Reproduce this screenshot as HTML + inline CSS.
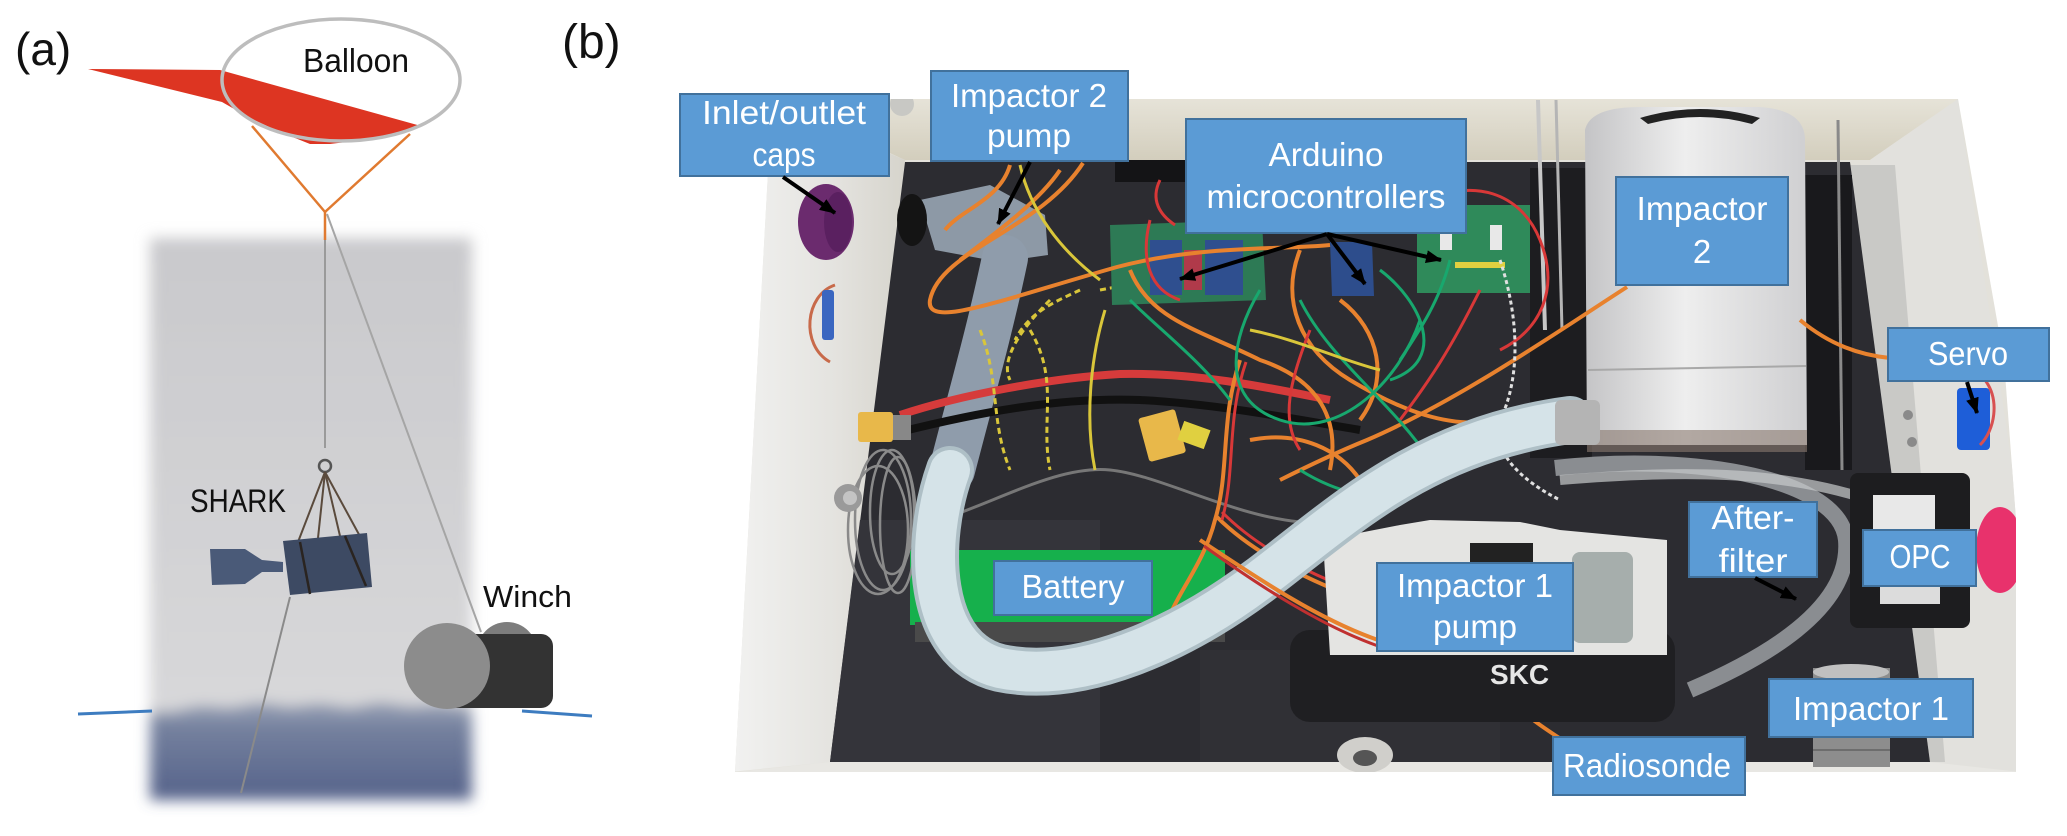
<!DOCTYPE html>
<html><head><meta charset="utf-8">
<style>
html,body{margin:0;padding:0;background:#fff;}
svg{display:block;}
text{font-family:"Liberation Sans",Arial,sans-serif;}
</style></head><body>
<svg width="2067" height="836" viewBox="0 0 2067 836" xmlns="http://www.w3.org/2000/svg">
<defs>
  <filter id="feather" x="-10%" y="-10%" width="120%" height="120%"><feGaussianBlur stdDeviation="7"/></filter>
  <linearGradient id="sky" x1="0" y1="0" x2="0" y2="1">
    <stop offset="0" stop-color="#c9c9cc"/><stop offset="1" stop-color="#d8d8da"/>
  </linearGradient>
  <linearGradient id="sea" x1="0" y1="0" x2="0" y2="1">
    <stop offset="0" stop-color="#7b87a2"/><stop offset="1" stop-color="#55628a"/>
  </linearGradient>
  <linearGradient id="cyl" x1="0" y1="0" x2="1" y2="0">
    <stop offset="0" stop-color="#c4c4c6"/><stop offset="0.45" stop-color="#eeeeee"/><stop offset="1" stop-color="#cfcfd1"/>
  </linearGradient>
  <linearGradient id="lwall" x1="0" y1="0" x2="1" y2="0">
    <stop offset="0" stop-color="#f2f2f1"/><stop offset="0.6" stop-color="#e4e3df"/><stop offset="1" stop-color="#d6d4cc"/>
  </linearGradient>
  <linearGradient id="twall" x1="0" y1="0" x2="0" y2="1">
    <stop offset="0" stop-color="#e6e3d8"/><stop offset="1" stop-color="#d3cebd"/>
  </linearGradient>
  <clipPath id="photo">
    <path d="M792,99 L1958,99 L2004,360 L2016,520 L2016,772 L735,772 L771,118 Q772,100 792,99 Z"/>
  </clipPath>
  <marker id="ah" markerWidth="16" markerHeight="13" refX="15" refY="6.5" orient="auto" markerUnits="userSpaceOnUse">
    <path d="M0,0 L16,6.5 L0,13 z" fill="#000"/>
  </marker>
</defs>

<!-- ================= PANEL (a) ================= -->
<text x="15" y="65" font-size="46" fill="#111">(a)</text>

<g filter="url(#feather)">
  <rect x="150" y="238" width="322" height="480" fill="url(#sky)"/>
  <rect x="150" y="712" width="322" height="88" fill="url(#sea)"/>
  <path d="M150,716 L180,710 L200,706 L230,708 L260,703 L290,707 L320,704 L350,708 L380,703 L410,707 L440,705 L472,709 L472,722 L150,722 Z" fill="#8893ab"/>
</g>

<line x1="78" y1="714" x2="152" y2="711" stroke="#3d7cc0" stroke-width="3"/>
<line x1="522" y1="711" x2="592" y2="716" stroke="#3d7cc0" stroke-width="3"/>

<polygon points="88,69 220,70 421,126 395,133 363,140 330,144 310,144 280,132 250,118 222,102" fill="#dd3522"/>
<ellipse cx="341" cy="80" rx="119" ry="61" fill="none" stroke="#bdbdbd" stroke-width="3.5"/>
<text x="303" y="72" font-size="33" fill="#111" textLength="106" lengthAdjust="spacingAndGlyphs">Balloon</text>

<line x1="252" y1="126" x2="325" y2="212" stroke="#e07a30" stroke-width="2.5"/>
<line x1="410" y1="134" x2="325" y2="212" stroke="#e07a30" stroke-width="2.5"/>
<line x1="325" y1="212" x2="325" y2="240" stroke="#e07a30" stroke-width="2.5"/>
<line x1="325" y1="240" x2="325" y2="448" stroke="#9a9a9a" stroke-width="2"/>
<line x1="327" y1="214" x2="481" y2="632" stroke="#a5a5a5" stroke-width="2"/>

<circle cx="325" cy="466" r="6" fill="none" stroke="#555" stroke-width="2.5"/>
<g stroke="#5a4a3c" stroke-width="2">
  <line x1="325" y1="472" x2="298" y2="542"/>
  <line x1="325" y1="472" x2="318" y2="538"/>
  <line x1="325" y1="472" x2="340" y2="536"/>
  <line x1="325" y1="472" x2="362" y2="540"/>
</g>
<polygon points="210,549 245,549 262,560 283,562 283,572 262,572 245,584 212,585" fill="#4a5a78"/>
<polygon points="283,541 367,533 372,587 290,595" fill="#3d4a63"/>
<g stroke="#2a2420" stroke-width="2.5">
  <line x1="300" y1="542" x2="310" y2="594"/>
  <line x1="345" y1="536" x2="366" y2="586"/>
</g>
<line x1="290" y1="597" x2="241" y2="793" stroke="#8a8a8a" stroke-width="2"/>
<text x="190" y="512" font-size="32" fill="#111" textLength="96" lengthAdjust="spacingAndGlyphs">SHARK</text>

<circle cx="507" cy="652" r="30" fill="#7d7d7d"/>
<rect x="443" y="634" width="110" height="74" rx="12" fill="#333333"/>
<circle cx="447" cy="666" r="43" fill="#8c8c8c"/>
<text x="483" y="607" font-size="31" fill="#111" textLength="89" lengthAdjust="spacingAndGlyphs">Winch</text>

<!-- ================= PANEL (b) ================= -->
<text x="562" y="58" font-size="48" fill="#111">(b)</text>

<g clip-path="url(#photo)">
  <rect x="700" y="90" width="1340" height="700" fill="#e3e1da"/>
  <polygon points="760,99 905,160 830,762 730,772" fill="url(#lwall)"/>
  <polygon points="772,99 1958,99 1870,160 905,160" fill="url(#twall)"/>
  <polygon points="1958,99 2020,520 2020,772 1930,762 1870,160" fill="#e2e1dd"/>
  <polygon points="1850,165 1895,165 1945,762 1930,762" fill="#c9c9c6"/>
  <polygon points="735,772 2020,772 1930,762 830,762" fill="#e8e7e3"/>
  <!-- interior foam -->
  <polygon points="905,162 1850,162 1930,762 830,762" fill="#2c2c31"/>
  <polygon points="860,520 1100,520 1100,762 830,762" fill="#34343a"/>
  <polygon points="1200,650 1500,650 1500,762 1200,762" fill="#303035"/>
  <!-- top-right structures -->
  <rect x="1530" y="168" width="62" height="290" fill="#1d1d20"/>
  <rect x="1805" y="175" width="47" height="295" fill="#19191c"/>
  <line x1="1538" y1="100" x2="1545" y2="330" stroke="#c7c7c7" stroke-width="4"/>
  <line x1="1556" y1="100" x2="1562" y2="330" stroke="#b5b5b5" stroke-width="3"/>
  <line x1="1838" y1="120" x2="1842" y2="470" stroke="#8a8a8a" stroke-width="3"/>
  <!-- Impactor 2 cylinder -->
  <path d="M1585,130 Q1590,107 1640,107 L1760,107 Q1805,110 1805,140 L1807,445 L1587,445 Z" fill="url(#cyl)"/>
  <path d="M1640,118 Q1700,100 1760,118 L1752,124 Q1700,110 1648,124 Z" fill="#222"/>
  <line x1="1588" y1="370" x2="1806" y2="366" stroke="#a8a8a8" stroke-width="2"/>
  <rect x="1587" y="430" width="220" height="22" fill="#8a7a70" opacity="0.6"/>
  <!-- clear tube loop -->
  <path d="M1555,468 C1700,452 1840,480 1846,540 C1852,610 1760,660 1690,690" fill="none" stroke="#a9adb2" stroke-width="16" opacity="0.75"/>
  <path d="M1560,480 C1680,470 1780,470 1870,500" fill="none" stroke="#c8cacc" stroke-width="10" opacity="0.7"/>
  <!-- OPC -->
  <rect x="1850" y="473" width="120" height="155" rx="8" fill="#1d1d1f"/>
  <rect x="1873" y="495" width="62" height="36" fill="#e8e8e8"/>
  <rect x="1880" y="578" width="60" height="26" fill="#dcdcdc"/>
  <!-- Impactor 1 -->
  <rect x="1813" y="668" width="77" height="99" fill="#8d8d8d"/>
  <ellipse cx="1851" cy="672" rx="38" ry="8" fill="#c0c0c0"/>
  <g stroke="#6d6d6d" stroke-width="2"><line x1="1813" y1="720" x2="1890" y2="720"/><line x1="1813" y1="735" x2="1890" y2="735"/><line x1="1813" y1="750" x2="1890" y2="750"/></g>
  <!-- right wall items -->
  <ellipse cx="2000" cy="550" rx="24" ry="43" fill="#e8326c"/>
  <rect x="1957" y="388" width="33" height="62" rx="4" fill="#1e5ed8"/>
  <path d="M1985,380 C2000,400 1995,430 1980,445" fill="none" stroke="#d85050" stroke-width="3"/>
  <circle cx="1908" cy="415" r="5" fill="#8a8a8a"/>
  <circle cx="1912" cy="442" r="5" fill="#8a8a8a"/>
  <!-- left wall items -->
  <ellipse cx="826" cy="222" rx="28" ry="38" fill="#6b2b6e"/>
  <ellipse cx="838" cy="222" rx="14" ry="30" fill="#5a2060"/>
  <path d="M835,285 C805,295 800,345 830,362" fill="none" stroke="#c86a4a" stroke-width="3"/>
  <rect x="822" y="290" width="12" height="50" rx="3" fill="#3a66c0"/>
  <!-- top area -->
  <rect x="1115" y="160" width="75" height="22" fill="#141416"/>
  <polygon points="920,200 990,185 1045,215 1048,255 1000,262 935,250" fill="#8d99a6"/>
  <ellipse cx="912" cy="220" rx="15" ry="26" fill="#141414"/>
  <path d="M1005,258 C990,330 970,400 952,470" fill="none" stroke="#8f9cab" stroke-width="46" stroke-linecap="round"/>
  <!-- battery -->
  <rect x="910" y="550" width="315" height="75" fill="#16b04c"/>
  <rect x="915" y="622" width="310" height="20" fill="#4a4a4a"/>
  <!-- coiled cable -->
  <g fill="none" stroke="#8a8a8a" stroke-width="2.5">
    <ellipse cx="883" cy="520" rx="28" ry="70"/>
    <ellipse cx="892" cy="512" rx="22" ry="62"/>
    <ellipse cx="878" cy="530" rx="30" ry="64"/>
    <ellipse cx="898" cy="525" rx="18" ry="68"/>
  </g>
  <circle cx="848" cy="498" r="14" fill="#9a9a9a"/>
  <circle cx="850" cy="498" r="7" fill="#c4c4c4"/>
  <!-- cables -->
  <path d="M900,415 C960,395 1050,378 1120,374 C1200,372 1280,390 1330,400" fill="none" stroke="#d63b3b" stroke-width="8"/>
  <path d="M900,432 C980,412 1060,397 1140,400 C1220,404 1300,420 1360,430" fill="none" stroke="#111" stroke-width="8"/>
  <path d="M940,520 C1000,500 1060,465 1110,470 C1160,475 1230,515 1300,522" fill="none" stroke="#777" stroke-width="3"/>
  <rect x="858" y="412" width="35" height="30" rx="3" fill="#e8b84a"/>
  <rect x="893" y="415" width="18" height="25" fill="#888"/>
  <rect x="1143" y="413" width="38" height="45" rx="3" fill="#e8b84a" transform="rotate(-15 1162 435)"/>
  <rect x="1180" y="425" width="28" height="20" fill="#e0d040" transform="rotate(20 1194 435)"/>
  <!-- yellow twisted wires -->
  <g fill="none" stroke="#d9c63a" stroke-width="3" stroke-dasharray="6 4">
    <path d="M980,330 C1000,380 990,420 1010,470"/>
    <path d="M1050,300 C1020,330 1000,360 1010,380"/>
    <path d="M1030,330 C1060,380 1040,420 1050,470"/>
    <path d="M1080,290 C1060,300 1030,310 1015,340"/>
    <path d="M1100,290 C1150,280 1180,280 1210,285"/>
  </g>
  <!-- arduino boards -->
  <polygon points="1110,225 1262,220 1266,300 1112,305" fill="#2d7a55"/>
  <rect x="1150" y="240" width="32" height="55" fill="#2f4f8f"/>
  <rect x="1184" y="250" width="18" height="40" fill="#b03a4a"/>
  <rect x="1205" y="240" width="38" height="55" fill="#2f4f8f"/>
  <polygon points="1330,242 1372,242 1374,296 1332,296" fill="#2d4d8c"/>
  <rect x="1417" y="205" width="113" height="88" fill="#2f8a5a"/>
  <rect x="1440" y="225" width="12" height="25" fill="#e8e8e8"/>
  <rect x="1490" y="225" width="12" height="25" fill="#e8e8e8"/>
  <rect x="1455" y="262" width="50" height="6" fill="#e0d040"/>
  <!-- orange wires -->
  <g fill="none" stroke="#e8822e" stroke-width="4">
    <path d="M1083,163 C1040,230 940,250 930,300 C925,330 1000,300 1117,267 C1200,245 1280,250 1330,245"/>
    <path d="M1010,165 C1000,200 960,210 945,230"/>
    <path d="M1627,287 C1560,330 1460,400 1367,440 C1330,455 1300,470 1280,480"/>
    <path d="M1217,517 C1260,560 1330,590 1373,603"/>
    <path d="M1240,360 C1220,420 1230,470 1215,520 C1205,560 1180,590 1170,615"/>
    <path d="M1800,320 C1830,345 1860,355 1890,358"/>
    <path d="M1130,270 C1150,320 1200,330 1260,360 C1320,380 1340,420 1330,470"/>
    <path d="M1510,700 C1530,720 1555,735 1570,745"/>
    <path d="M1300,250 C1280,300 1300,350 1350,380 C1400,410 1450,430 1500,420"/>
    <path d="M1060,170 C1040,200 1000,230 960,260"/>
    <path d="M1340,300 C1380,330 1390,380 1360,420"/>
    <path d="M1250,440 C1300,430 1340,450 1360,480"/>
  </g>
  <g fill="none" stroke="#d83838" stroke-width="3">
    <path d="M1222,512 C1265,556 1333,584 1376,598"/>
    <path d="M1430,200 C1470,180 1520,190 1540,240 C1560,290 1540,330 1500,350"/>
    <path d="M1150,220 C1140,260 1150,290 1180,300"/>
    <path d="M1480,290 C1450,350 1430,380 1400,420"/>
    <path d="M1246,362 C1226,420 1236,470 1222,520"/>
    <path d="M1160,180 C1150,200 1160,215 1175,225"/>
    <path d="M1310,330 C1290,380 1280,420 1300,450"/>
  </g>
  <g fill="none" stroke="#18a86e" stroke-width="3">
    <path d="M1260,290 C1230,340 1220,400 1280,420 C1340,440 1400,380 1420,320"/>
    <path d="M1300,300 C1330,360 1390,400 1430,460 C1450,490 1380,520 1300,470"/>
    <path d="M1380,270 C1420,300 1450,360 1390,380"/>
    <path d="M1450,260 C1440,300 1420,330 1400,360"/>
    <path d="M1130,300 C1160,330 1200,360 1230,400"/>
  </g>
  <g fill="none" stroke="#d9c63a" stroke-width="3">
    <path d="M1020,165 C1030,210 1060,250 1100,280"/>
    <path d="M1250,330 C1300,340 1340,360 1380,370"/>
    <path d="M1400,160 C1420,180 1430,200 1420,220"/>
    <path d="M1105,310 C1090,360 1085,420 1095,470"/>
  </g>
  <path d="M1500,260 C1520,320 1520,380 1500,420 C1490,450 1520,480 1560,500" fill="none" stroke="#e0e0e0" stroke-width="3" stroke-dasharray="4 3"/>
  <!-- SKC pump -->
  <rect x="1290" y="630" width="385" height="92" rx="20" fill="#1f1f22"/>
  <polygon points="1323,540 1400,525 1430,520 1520,522 1560,530 1667,540 1667,655 1330,655" fill="#e4e4e2"/>
  <rect x="1470" y="543" width="63" height="20" fill="#222"/>
  <rect x="1572" y="552" width="61" height="91" rx="8" fill="#a6aeac"/>
  <text x="1490" y="684" font-size="28" font-weight="bold" fill="#e6e6e6" font-family="Liberation Serif, serif">SKC</text>
  <!-- white tube -->
  <path d="M950,470 C925,540 925,650 1000,668 C1080,685 1180,640 1260,580 C1340,520 1420,440 1570,420" fill="none" stroke="#aebfc6" stroke-width="48" stroke-linecap="round"/>
  <path d="M950,470 C925,540 925,650 1000,668 C1080,685 1180,640 1260,580 C1340,520 1420,440 1570,420" fill="none" stroke="#d5e3e8" stroke-width="40" stroke-linecap="round"/>
  <rect x="1555" y="400" width="45" height="45" rx="6" fill="#b4b4b4"/>
  <path d="M1200,540 C1260,580 1320,620 1378,640" fill="none" stroke="#e8822e" stroke-width="4"/>
  <path d="M1204,546 C1262,588 1322,626 1378,646" fill="none" stroke="#c03030" stroke-width="3"/>
  <!-- screw boss -->
  <ellipse cx="1365" cy="755" rx="28" ry="18" fill="#d0cfcb"/>
  <ellipse cx="1365" cy="758" rx="12" ry="8" fill="#555"/>
  <circle cx="902" cy="104" r="12" fill="#c8c8c4"/>
</g>

<!-- ===== labels ===== -->
<g fill="#5b9bd5" stroke="#41719c" stroke-width="2">
  <rect x="680" y="94" width="209" height="82"/>
  <rect x="931" y="71" width="197" height="90"/>
  <rect x="1186" y="119" width="280" height="114"/>
  <rect x="1616" y="177" width="172" height="108"/>
  <rect x="1888" y="328" width="161" height="53"/>
  <rect x="1689" y="502" width="128" height="75"/>
  <rect x="1863" y="530" width="113" height="56"/>
  <rect x="1769" y="679" width="204" height="58"/>
  <rect x="1553" y="737" width="192" height="58"/>
  <rect x="994" y="561" width="158" height="54"/>
  <rect x="1377" y="563" width="196" height="88"/>
</g>
<g fill="#fff" font-size="33" text-anchor="middle">
  <text x="784" y="124" textLength="164" lengthAdjust="spacingAndGlyphs">Inlet/outlet</text>
  <text x="784" y="166" textLength="63" lengthAdjust="spacingAndGlyphs">caps</text>
  <text x="1029" y="107" textLength="156" lengthAdjust="spacingAndGlyphs">Impactor 2</text>
  <text x="1029" y="147" textLength="84" lengthAdjust="spacingAndGlyphs">pump</text>
  <text x="1326" y="166" textLength="115" lengthAdjust="spacingAndGlyphs">Arduino</text>
  <text x="1326" y="208" textLength="239" lengthAdjust="spacingAndGlyphs">microcontrollers</text>
  <text x="1702" y="220" textLength="131" lengthAdjust="spacingAndGlyphs">Impactor</text>
  <text x="1702" y="263">2</text>
  <text x="1968" y="365" textLength="80" lengthAdjust="spacingAndGlyphs">Servo</text>
  <text x="1753" y="529" textLength="83" lengthAdjust="spacingAndGlyphs">After-</text>
  <text x="1753" y="572" textLength="69" lengthAdjust="spacingAndGlyphs">filter</text>
  <text x="1920" y="568" textLength="61" lengthAdjust="spacingAndGlyphs">OPC</text>
  <text x="1871" y="720" textLength="156" lengthAdjust="spacingAndGlyphs">Impactor 1</text>
  <text x="1647" y="777" textLength="168" lengthAdjust="spacingAndGlyphs">Radiosonde</text>
  <text x="1073" y="598" textLength="103" lengthAdjust="spacingAndGlyphs">Battery</text>
  <text x="1475" y="597" textLength="156" lengthAdjust="spacingAndGlyphs">Impactor 1</text>
  <text x="1475" y="638" textLength="84" lengthAdjust="spacingAndGlyphs">pump</text>
</g>

<!-- ===== arrows ===== -->
<g stroke="#000" stroke-width="4" marker-end="url(#ah)">
  <line x1="783" y1="177" x2="835" y2="213"/>
  <line x1="1030" y1="162" x2="998" y2="224"/>
  <line x1="1327" y1="234" x2="1180" y2="279"/>
  <line x1="1327" y1="234" x2="1365" y2="284"/>
  <line x1="1327" y1="234" x2="1441" y2="260"/>
  <line x1="1967" y1="382" x2="1977" y2="413"/>
  <line x1="1755" y1="578" x2="1796" y2="599"/>
</g>
</svg>
</body></html>
